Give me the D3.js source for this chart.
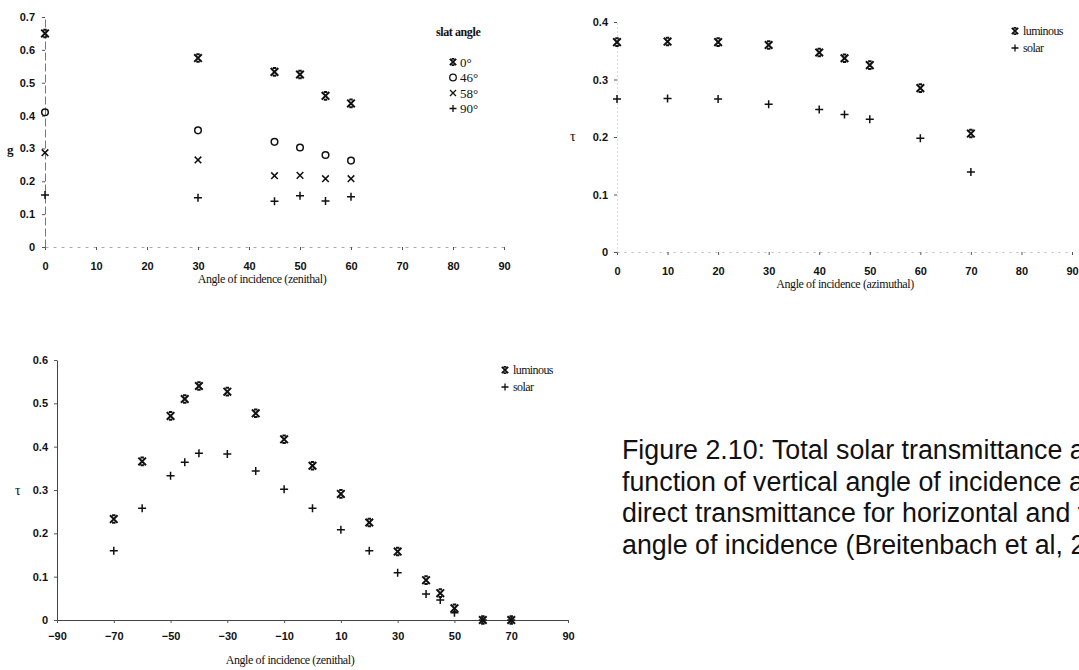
<!DOCTYPE html>
<html>
<head>
<meta charset="utf-8">
<script src="https://cdn.jsdelivr.net/npm/d3@7"></script>
<style>
  body { margin: 0; background: #fff; }
  svg { display: block; }
  .tick text { font-family: "Liberation Sans", Arial, sans-serif; font-weight: bold; font-size: 11px; fill: #111; }
  .ttl { font-family: "Liberation Serif", "Times New Roman", serif; font-size: 12px; fill: #111; letter-spacing: -0.4px; }
  .leg { font-family: "Liberation Serif", "Times New Roman", serif; font-size: 13px; fill: #111; }
  .cap { font-family: "Liberation Sans", Arial, sans-serif; font-size: 26.8px; fill: #111; }
</style>
</head>
<body>
<div id="vis"></div>
<script>
const WIDTH = 1079;
const HEIGHT = 670;

// top left: g vs zenithal angle, per slat angle
const slatX = [0, 30, 45, 50, 55, 60];
const slat0 = [0.65, 0.575, 0.533, 0.525, 0.46, 0.437];
const slat46 = [0.41, 0.355, 0.32, 0.303, 0.28, 0.263];
const slat58 = [0.287, 0.265, 0.217, 0.218, 0.208, 0.208];
const slat90 = [0.158, 0.15, 0.139, 0.156, 0.14, 0.153];
const slatNames = ["0°", "46°", "58°", "90°"];

// top right: tau vs azimuthal angle
const aziX = [0, 10, 20, 30, 40, 45, 50, 60, 70];
const aziLum = [0.365, 0.366, 0.365, 0.36, 0.347, 0.337, 0.325, 0.285, 0.206];
const aziSol = [0.266, 0.267, 0.266, 0.257, 0.248, 0.239, 0.231, 0.198, 0.139];

// bottom: tau vs zenithal angle
const zenX = [-70, -60, -50, -45, -40, -30, -20, -10, 0, 10, 20, 30, 40, 45, 50, 60, 70];
const zenLum = [0.233, 0.366, 0.471, 0.51, 0.54, 0.527, 0.477, 0.417, 0.356, 0.291, 0.225, 0.158, 0.092, 0.062, 0.027, 0, 0];
const zenSol = [0.16, 0.258, 0.333, 0.364, 0.385, 0.383, 0.344, 0.302, 0.258, 0.208, 0.16, 0.109, 0.06, 0.046, 0.017, 0, 0];

const tauNames = ["luminous", "solar"];
const ticks0to90 = [0, 10, 20, 30, 40, 50, 60, 70, 80, 90];
const ticksZen = [-90, -70, -50, -30, -10, 10, 30, 50, 70, 90];

const captionLines = [
  "Figure 2.10: Total solar transmittance as a",
  "function of vertical angle of incidence and",
  "direct transmittance for horizontal and vertical",
  "angle of incidence (Breitenbach et al, 2001)"
];

const svg = d3.select("#vis").append("svg")
  .attr("width", WIDTH)
  .attr("height", HEIGHT);

// marker shapes
function star(s) {
  const b = s * 0.45;
  return `M${-s},${-s}L${s},${s}M${-s},${s}L${s},${-s}M${-b},${-s}L${b},${-s}M${-b},${s}L${b},${s}`;
}
function cross(s) { return `M${-s},${-s}L${s},${s}M${-s},${s}L${s},${-s}`; }
function plus(s) { return `M${-s},0L${s},0M0,${-s}L0,${s}`; }

function drawMarks(g, xs, ys, X, Y, kind) {
  const sel = g.selectAll(null).data(xs.map((d, i) => ({x: d, y: ys[i]}))).enter();
  if (kind === "circle") {
    sel.append("circle")
      .attr("cx", d => X(d.x)).attr("cy", d => Y(d.y)).attr("r", 3.3)
      .attr("fill", "none").attr("stroke", "#111").attr("stroke-width", 1.5);
    return;
  }
  sel.append("path")
    .attr("transform", d => `translate(${X(d.x)},${Y(d.y)})`)
    .attr("d", kind === "star" ? star(3.8) : kind === "cross" ? cross(3.3) : plus(4))
    .attr("fill", "none").attr("stroke", "#111")
    .attr("stroke-width", kind === "star" ? 2 : 1.5);
}

function legendMark(g, x, y, kind) {
  if (kind === "circle") {
    g.append("circle").attr("cx", x).attr("cy", y).attr("r", 3.3)
      .attr("fill", "none").attr("stroke", "#111").attr("stroke-width", 1.3);
  } else {
    g.append("path").attr("transform", `translate(${x},${y})`)
      .attr("d", kind === "star" ? star(3.2) : kind === "cross" ? cross(3) : plus(3.5))
      .attr("fill", "none").attr("stroke", "#111")
      .attr("stroke-width", kind === "star" ? 1.8 : 1.3);
  }
}

function styleAxis(g, stroke, dash) {
  g.select(".domain").attr("stroke", stroke).attr("stroke-dasharray", dash);
  g.selectAll(".tick line").attr("stroke", "#555");
}

// ---------- top left ----------
const X1 = d3.scaleLinear().domain([0, 90]).range([45, 504]);
const Y1 = d3.scaleLinear().domain([0, 0.7]).range([247, 17]);

const ax1 = svg.append("g").attr("transform", "translate(0,247)")
  .call(d3.axisBottom(X1).tickValues(ticks0to90).tickSize(3).tickSizeOuter(0).tickPadding(12));
styleAxis(ax1, "#aaa", "3,5");
const ay1 = svg.append("g").attr("transform", "translate(45,0)")
  .call(d3.axisLeft(Y1).ticks(7).tickSize(3).tickSizeOuter(0).tickPadding(7).tickFormat(d => d === 0 ? "0" : d3.format(".1f")(d)));
styleAxis(ay1, "#777", "8,3");

drawMarks(svg.append("g"), slatX, slat0, X1, Y1, "star");
drawMarks(svg.append("g"), slatX, slat46, X1, Y1, "circle");
drawMarks(svg.append("g"), slatX, slat58, X1, Y1, "cross");
drawMarks(svg.append("g"), slatX, slat90, X1, Y1, "plus");

svg.append("text").attr("class", "ttl").attr("x", 262).attr("y", 283)
  .attr("text-anchor", "middle").text("Angle of incidence (zenithal)");
svg.append("text").attr("class", "ttl").attr("x", 7).attr("y", 154)
  .attr("font-weight", "bold").style("font-size", "13px").text("g");

const leg1 = svg.append("g");
leg1.append("text").attr("class", "ttl").attr("x", 436).attr("y", 36)
  .attr("font-weight", "bold").text("slat angle");
["star", "circle", "cross", "plus"].forEach((k, i) => {
  const yy = 62 + i * 15.5;
  legendMark(leg1, 453, yy, k);
  leg1.append("text").attr("class", "leg").attr("x", 460).attr("y", yy + 4.5).text(slatNames[i]);
});

// ---------- top right ----------
const X2 = d3.scaleLinear().domain([0, 90]).range([617, 1072]);
const Y2 = d3.scaleLinear().domain([0, 0.4]).range([252, 22]);

const ax2 = svg.append("g").attr("transform", "translate(0,252)")
  .call(d3.axisBottom(X2).tickValues(ticks0to90).tickSize(3).tickSizeOuter(0).tickPadding(12));
styleAxis(ax2, "#bbb", "2,5");
const ay2 = svg.append("g").attr("transform", "translate(617,0)")
  .call(d3.axisLeft(Y2).ticks(4).tickSize(3).tickSizeOuter(0).tickPadding(6).tickFormat(d => d === 0 ? "0" : d3.format(".1f")(d)));
styleAxis(ay2, "#bbb", "1,3");

drawMarks(svg.append("g"), aziX, aziLum, X2, Y2, "star");
drawMarks(svg.append("g"), aziX, aziSol, X2, Y2, "plus");

svg.append("text").attr("class", "ttl").attr("x", 845).attr("y", 288)
  .attr("text-anchor", "middle").text("Angle of incidence (azimuthal)");
svg.append("text").attr("class", "ttl").attr("x", 570).attr("y", 141).style("font-size", "14px").text("τ");

const leg2 = svg.append("g");
tauNames.forEach((n, i) => {
  const yy = 31 + i * 17;
  legendMark(leg2, 1015, yy, i === 0 ? "star" : "plus");
  leg2.append("text").attr("class", "leg").attr("x", 1023).attr("y", yy + 4)
    .style("font-size", "12px").style("letter-spacing", "-0.6px").text(n);
});

// ---------- bottom ----------
const X3 = d3.scaleLinear().domain([-90, 90]).range([57, 568]);
const Y3 = d3.scaleLinear().domain([0, 0.6]).range([620, 360]);

const ax3 = svg.append("g").attr("transform", "translate(0,620)")
  .call(d3.axisBottom(X3).tickValues(ticksZen).tickSize(3).tickSizeOuter(0).tickPadding(9));
styleAxis(ax3, "#444", null);
const ay3 = svg.append("g").attr("transform", "translate(57,0)")
  .call(d3.axisLeft(Y3).ticks(6).tickSize(3).tickSizeOuter(0).tickPadding(6).tickFormat(d => d === 0 ? "0" : d3.format(".1f")(d)));
styleAxis(ay3, "#444", null);

drawMarks(svg.append("g"), zenX, zenLum, X3, Y3, "star");
drawMarks(svg.append("g"), zenX, zenSol, X3, Y3, "plus");

svg.append("text").attr("class", "ttl").attr("x", 290).attr("y", 664)
  .attr("text-anchor", "middle").text("Angle of incidence (zenithal)");
svg.append("text").attr("class", "ttl").attr("x", 15).attr("y", 495).style("font-size", "14px").text("τ");

const leg3 = svg.append("g");
tauNames.forEach((n, i) => {
  const yy = 370 + i * 17;
  legendMark(leg3, 505, yy, i === 0 ? "star" : "plus");
  leg3.append("text").attr("class", "leg").attr("x", 513).attr("y", yy + 4)
    .style("font-size", "12px").style("letter-spacing", "-0.6px").text(n);
});

// ---------- caption ----------
svg.append("g").selectAll("text").data(captionLines).enter().append("text")
  .attr("class", "cap")
  .attr("x", 622)
  .attr("y", (d, i) => 459 + i * 31.5)
  .text(d => d);
</script>
</body>
</html>
